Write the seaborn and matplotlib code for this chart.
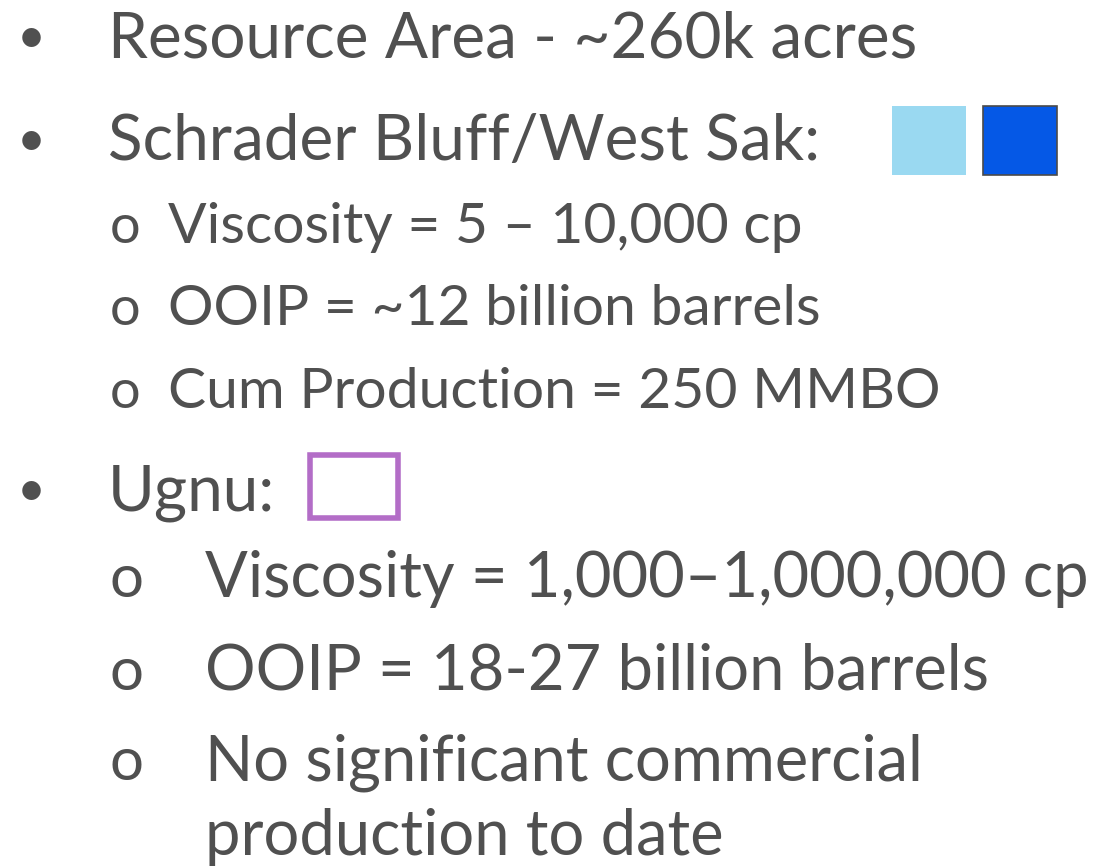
import seaborn as sns
import matplotlib.pyplot as plt
from matplotlib.patches import Rectangle

# slide content
top_items = ["Resource Area - ~260k acres", "Schrader Bluff/West Sak:", "Ugnu:"]
sak_items = ["Viscosity = 5 \u2013 10,000 cp", "OOIP = ~12 billion barrels",
             "Cum Production = 250 MMBO"]
ugnu_items = ["Viscosity = 1,000\u20131,000,000 cp", "OOIP = 18-27 billion barrels",
              "No significant commercial\nproduction to date"]
swatch_colors = ["#9ad9f1", "#0558e6"]
ugnu_color = "#b36dc7"

sns.set_theme(style="white")
plt.rcParams['font.family'] = ['Lato', 'DejaVu Sans']
text_color = "#505050"

fig = plt.figure(figsize=(10.94, 8.67), dpi=100)
ax = fig.add_axes([0, 0, 1, 1])
ax.set_xlim(0, 1094)
ax.set_ylim(867, 0)
ax.axis('off')

big = 46
sak_size = 41
ugnu_size = 45.5


def bullet(y):
    ax.text(17, y - 4, "\u2022", fontsize=36, color=text_color, va='baseline', ha='left')


def sub(y, txt, x_text, size):
    ax.text(110, y, "o", fontsize=size * 0.95, color=text_color, va='baseline', ha='left')
    for i, line in enumerate(txt.split("\n")):
        ax.text(x_text, y + i * 75, line, fontsize=size, color=text_color,
                va='baseline', ha='left')


top_y = [57, 160, 510]
for y, txt in zip(top_y, top_items):
    bullet(y)
    ax.text(108, y, txt, fontsize=big, color=text_color, va='baseline', ha='left')

for y, txt in zip([243, 325, 408], sak_items):
    sub(y, txt, 168, sak_size)

for y, txt in zip([597, 690, 780], ugnu_items):
    sub(y, txt, 205, ugnu_size)

# colour swatches
ax.add_patch(Rectangle((892, 106), 74, 69, facecolor=swatch_colors[0], edgecolor='none'))
ax.add_patch(Rectangle((983, 106), 74, 69, facecolor=swatch_colors[1],
                       edgecolor='#4a4a4a', linewidth=1.2))
ax.add_patch(Rectangle((310, 455), 88, 63, facecolor='white', edgecolor=ugnu_color,
                       linewidth=4))

fig.savefig("out.png", dpi=100)
